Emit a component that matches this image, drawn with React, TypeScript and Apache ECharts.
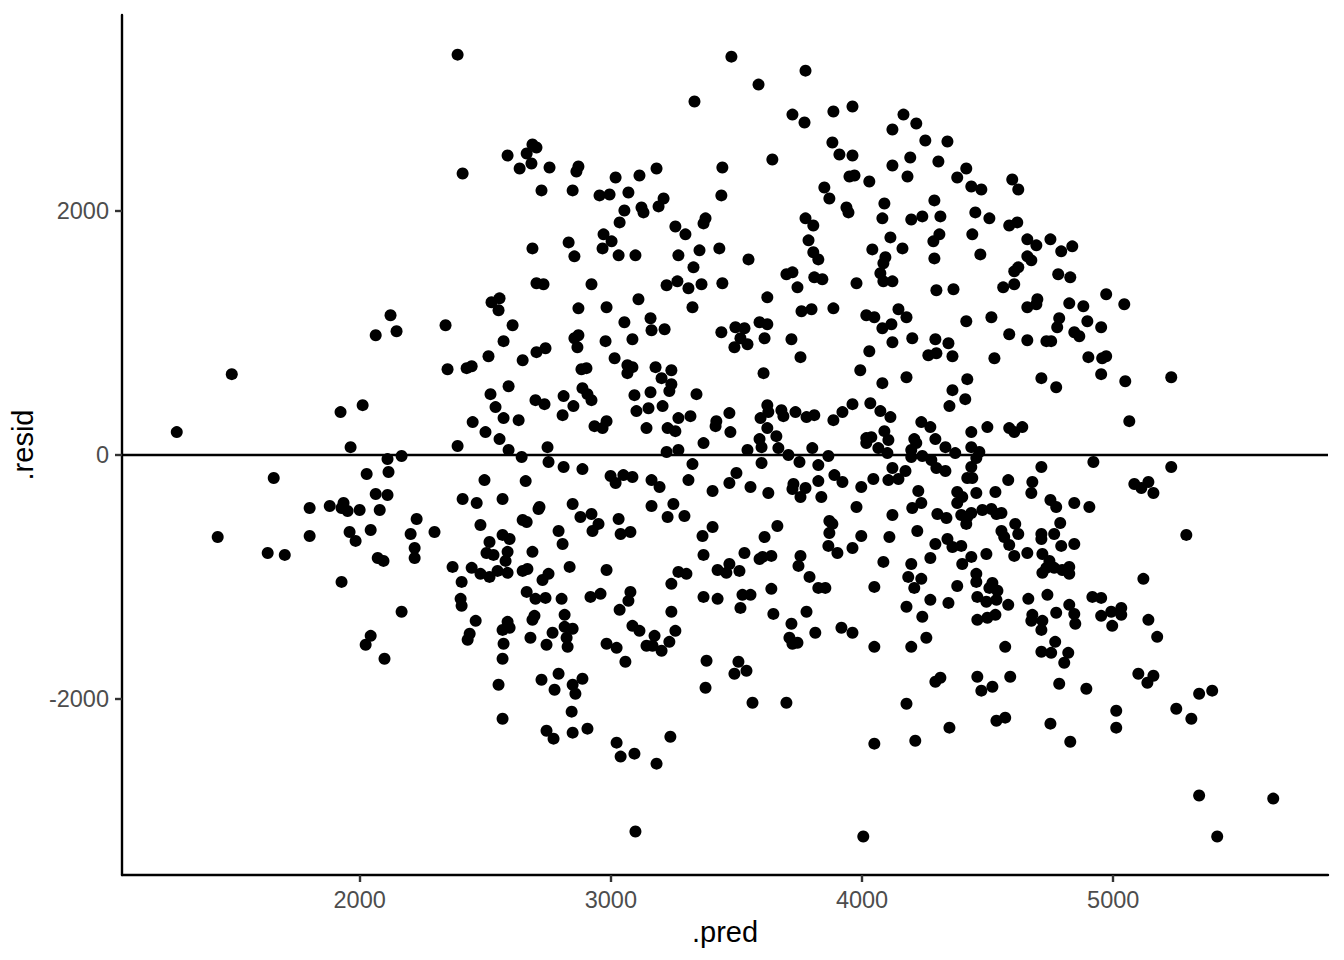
import React, { useEffect, useRef } from "react";
import * as echarts from "echarts";

const xTicks = [2000, 3000, 4000, 5000];
const yTicks = [-2000, 0, 2000];
const xRange = [1054, 5855];
const yRange = [-3440, 3605];

// .pred, .resid pairs, grouped by region of the plot
const leftPoints: [number, number][] = [
  [2123, 1145], [2064, 982], [2147, 1014], [1491, 663], [1924, 352], [2012, 409], [1272, 188], [1964, 65],
  [2111, -33], [2167, -8], [1658, -188], [2028, -155], [2115, -139], [2064, -319], [2111, -327], [1801, -434],
  [1881, -417], [1936, -393], [1928, -434], [1952, -458], [2000, -450], [2080, -450], [2227, -524], [1435, -671],
  [1801, -663], [1960, -630], [1984, -703], [2044, -614], [2203, -646], [2298, -630], [2219, -761], [2219, -843],
  [1634, -802], [1702, -818], [2072, -843], [2095, -867], [1928, -1039], [2167, -1284], [2044, -1481], [2024, -1554],
  [2099, -1669],
];

const upperMidLeft: [number, number][] = [
  [2390, 3280], [3333, 2896], [2688, 2544], [2704, 2519], [2589, 2454], [2665, 2470], [2637, 2348], [2684, 2389],
  [2756, 2356], [2871, 2364], [2863, 2323], [2410, 2307], [3182, 2348], [3114, 2290], [3019, 2274], [2724, 2168],
  [2848, 2168], [2955, 2127], [2995, 2135], [3070, 2151], [3210, 2102], [3190, 2037], [3122, 2029], [3130, 1988],
  [3054, 2004], [3035, 1906], [3257, 1873], [3297, 1808], [3377, 1939], [3369, 1898], [2971, 1808], [3003, 1751],
  [2832, 1742], [2688, 1693], [2967, 1693], [2855, 1628], [3031, 1636], [3098, 1636], [3269, 1636], [3353, 1677],
  [3329, 1538], [2704, 1407], [2732, 1399], [2923, 1399], [3222, 1391], [3265, 1423], [3309, 1366], [3361, 1399],
  [2525, 1252], [2557, 1284], [2553, 1186], [2871, 1202], [2983, 1211], [3110, 1276], [3325, 1211],
];

const upperMidRight: [number, number][] = [
  [3480, 3264], [3775, 3149], [3588, 3035], [3723, 2789], [3771, 2724], [3886, 2814], [3962, 2855], [4165, 2789],
  [4216, 2716], [4121, 2667], [4252, 2577], [4340, 2569], [3882, 2560], [3910, 2462], [3962, 2454], [3643, 2421],
  [3444, 2356], [4192, 2438], [4121, 2372], [4304, 2405], [4181, 2282], [4415, 2348], [4379, 2274], [4435, 2200],
  [4475, 2176], [3950, 2282], [3970, 2290], [4029, 2241], [3850, 2192], [3870, 2102], [4089, 2061], [4288, 2086],
  [3440, 2127], [3938, 2029], [3946, 1988], [4081, 1939], [4196, 1930], [4240, 1955], [4312, 1955], [4451, 1988],
  [4507, 1939], [3775, 1939], [3806, 1881], [4439, 1808], [4308, 1808], [4284, 1751], [4113, 1783], [4161, 1693],
  [4041, 1685], [3787, 1759], [3806, 1661], [3826, 1603], [4288, 1611], [4471, 1644], [3548, 1603], [3432, 1693],
  [4093, 1620], [4085, 1571], [4073, 1489], [4085, 1423], [4121, 1423], [3699, 1481], [3723, 1497], [3810, 1456],
  [3842, 1440], [3743, 1374], [3978, 1407], [4296, 1350], [4364, 1358], [3444, 1407], [3623, 1292], [3759, 1178],
  [3799, 1194], [3886, 1202], [4145, 1194],
];

const upperRight: [number, number][] = [
  [4598, 2258], [4622, 2176], [4586, 1881], [4618, 1906], [4658, 1767], [4694, 1718], [4750, 1767], [4793, 1669],
  [4837, 1710], [4658, 1628], [4674, 1595], [4606, 1505], [4622, 1538], [4781, 1481], [4829, 1456], [4562, 1374],
  [4606, 1399], [4698, 1276], [4658, 1211], [4694, 1235], [4825, 1243], [4881, 1219], [4972, 1317], [5044, 1235],
];

const centreLeft: [number, number][] = [
  [2342, 1063], [2609, 1063], [3054, 1088], [3158, 1121], [3162, 1023], [3214, 1031], [2573, 933], [2513, 810],
  [2649, 777], [2704, 843], [2740, 875], [2855, 957], [2871, 982], [2867, 883], [2979, 933], [3086, 949],
  [3015, 793], [2350, 703], [2426, 712], [2446, 728], [2883, 703], [2903, 712], [3066, 736], [3086, 720],
  [3066, 671], [3178, 720], [3241, 695], [3202, 630], [3241, 581], [3233, 524], [2593, 564], [2521, 499],
  [2700, 450], [2736, 417], [2812, 483], [2851, 401], [2887, 548], [2907, 499], [2923, 450], [3094, 491],
  [3158, 515], [3206, 401], [3341, 499], [2541, 393], [2808, 327], [3102, 360], [3150, 384], [2573, 303],
  [2633, 286], [2450, 270], [2935, 237], [2967, 221], [2983, 278], [3142, 221], [3226, 221], [3257, 196],
  [3269, 303], [3317, 319], [3420, 278], [3417, 237], [2501, 188], [2557, 131], [2390, 74], [2593, 41],
  [2645, -16], [2748, 65], [2752, -57], [2812, -98], [2887, -115], [3222, 25], [3269, 41], [3369, 98],
  [3325, -74], [2999, -172], [3019, -229], [3050, -164], [3086, -180], [3162, -205], [3194, -262], [3309, -205],
  [2497, -205], [2661, -213], [3405, -294], [2410, -360], [2466, -393], [2569, -360], [2716, -425], [2712, -442],
  [2848, -401], [2879, -507], [2923, -483], [2951, -564], [2927, -622], [3031, -524], [3039, -646], [3078, -630],
  [3162, -417], [3249, -401], [3226, -507], [3293, -499], [2649, -532], [2665, -548], [2481, -573], [2792, -622],
  [2808, -728], [2517, -712], [2569, -654], [2597, -687], [2589, -793], [2581, -867], [2505, -802], [2533, -818],
  [2688, -793], [3405, -589], [3365, -663], [3369, -818], [2370, -916], [2406, -1039], [2446, -924], [2481, -973],
  [2517, -998], [2549, -949], [2589, -965], [2649, -949], [2668, -933], [2728, -1023], [2752, -973], [2836, -916],
  [2983, -941], [3269, -957], [3301, -973], [3241, -1055], [3425, -941], [2665, -1121], [2700, -1178], [2740, -1170],
  [2804, -1178], [2919, -1162], [2959, -1137], [3078, -1121], [3070, -1194], [2402, -1178], [3369, -1162], [3425, -1178],
];

const lowerMidLeft: [number, number][] = [
  [2406, -1235], [2462, -1358], [2589, -1366], [2569, -1432], [2597, -1415], [2696, -1317], [2688, -1350], [2438, -1464],
  [2430, -1513], [2573, -1546], [2569, -1669], [2680, -1497], [2744, -1554], [2768, -1456], [2816, -1309], [2816, -1407],
  [2848, -1423], [2824, -1497], [2828, -1571], [3035, -1268], [3086, -1399], [3114, -1440], [2983, -1546], [3023, -1579],
  [3058, -1693], [3174, -1481], [3142, -1562], [3166, -1562], [3202, -1603], [3233, -1530], [3257, -1440], [3241, -1284],
  [3381, -1685], [3377, -1906], [2553, -1881], [2724, -1841], [2792, -1791], [2776, -1922], [2848, -1881], [2859, -1955],
  [2887, -1832], [2569, -2160], [2844, -2102], [2744, -2258], [2772, -2323], [2848, -2274], [2907, -2241], [3023, -2356],
  [3039, -2470], [3094, -2446], [3182, -2528], [3237, -2307], [3098, -3084],
];

const centreRight: [number, number][] = [
  [3440, 1006], [3496, 1047], [3532, 1039], [3592, 1088], [3623, 1072], [3516, 957], [3492, 883], [3544, 908],
  [3612, 957], [3719, 949], [3755, 802], [3608, 671], [4017, 1145], [4049, 1129], [4177, 1129], [4081, 1039],
  [4117, 1072], [4121, 924], [4200, 957], [4029, 851], [3993, 695], [4081, 589], [4177, 638], [4292, 949],
  [4344, 916], [4264, 818], [4296, 834], [4360, 810], [4415, 1096], [4515, 1129], [4527, 793], [4419, 622],
  [4360, 532], [4411, 458], [4348, 401], [3472, 344], [3476, 188], [3623, 409], [3627, 352], [3596, 303],
  [3679, 368], [3687, 319], [3735, 352], [3779, 311], [3810, 327], [3886, 286], [3922, 352], [3962, 417],
  [4033, 425], [4073, 360], [4113, 311], [4089, 196], [4017, 139], [4037, 147], [4017, 98], [4105, 123],
  [4208, 131], [4216, 98], [4236, 270], [4272, 229], [4292, 131], [4332, 65], [4435, 188], [4499, 229],
  [3623, 221], [3592, 131], [3600, 65], [3659, 155], [3667, 57], [3544, 41], [3707, 0], [3802, 57],
  [3866, -8], [3751, -57], [3600, -65], [3826, -82], [4065, 57], [4101, 16], [4196, 41], [4196, -16],
  [4240, -8], [4276, -41], [4296, -106], [4332, -131], [4371, 16], [4435, 65], [4467, 25], [4455, -25],
  [4435, -98], [4121, -106], [4173, -131], [3500, -147], [3472, -229], [3556, -262], [3627, -311], [3727, -237],
  [3723, -278], [3755, -344], [3775, -270], [3826, -213], [3838, -344], [3890, -164], [3922, -221], [3997, -262],
  [4045, -196], [4105, -205], [4145, -196], [4224, -294], [4419, -188], [4439, -188], [4379, -303], [4399, -344],
  [4379, -393], [4455, -311], [4531, -303], [4200, -434], [4236, -393], [3978, -425], [4121, -491], [4300, -483],
  [4336, -515], [4395, -491], [4419, -507], [4435, -474], [4415, -564], [4479, -450], [4515, -442], [4535, -483],
  [4555, -474], [3870, -540], [3882, -564], [3870, -638], [3663, -581], [3612, -671], [3997, -663], [4109, -671],
  [4220, -622], [4340, -687], [4360, -753], [4395, -744], [4292, -728], [4272, -843], [4435, -834], [4495, -810],
  [3866, -744], [3902, -802], [3962, -761], [3532, -802], [3592, -851], [3604, -834], [3639, -826], [3755, -826],
  [3747, -908], [3472, -892], [3512, -949], [3460, -965], [4085, -875], [4196, -892], [4399, -892], [4455, -973],
  [4455, -1039], [3791, -998], [4184, -998], [4236, -1014], [4208, -1088], [4519, -1047], [4507, -1088], [4539, -1112],
  [3826, -1088], [3854, -1088], [4049, -1080], [4379, -1072], [3639, -1096],
];

const lowerMidRight: [number, number][] = [
  [3524, -1145], [3556, -1145], [3516, -1252], [3647, -1301], [3779, -1284], [3719, -1382], [3711, -1497], [3723, -1546],
  [3743, -1538], [3814, -1456], [3918, -1415], [3962, -1456], [4049, -1571], [4177, -1243], [4272, -1186], [4344, -1211],
  [4240, -1325], [4256, -1497], [4196, -1571], [4459, -1162], [4495, -1202], [4535, -1186], [4459, -1350], [4499, -1333],
  [4531, -1309], [3508, -1693], [3540, -1767], [3492, -1791], [3564, -2029], [3699, -2029], [4292, -1857], [4312, -1824],
  [4459, -1816], [4475, -1930], [4519, -1898], [4177, -2037], [4348, -2233], [4535, -2176], [4049, -2364], [4212, -2340],
  [4005, -3125],
];

const rightMiddle: [number, number][] = [
  [4785, 1121], [4777, 1047], [4897, 1096], [4952, 1047], [4586, 990], [4658, 941], [4734, 933], [4753, 933],
  [4845, 1006], [4865, 973], [4901, 802], [4956, 793], [4972, 810], [4714, 630], [4773, 556], [4952, 663],
  [5048, 605], [5231, 638], [5064, 278], [4586, 221], [4606, 188], [4638, 229], [4921, -57], [4714, -98],
  [5231, -98], [4582, -205], [4678, -221], [4674, -311], [5084, -237], [5112, -270], [5140, -221], [5160, -311],
  [4750, -368], [4773, -425], [4845, -393], [4905, -425], [4610, -564], [4622, -646], [4789, -556], [4555, -622],
  [4566, -671], [4586, -736], [4714, -646], [4714, -687], [4765, -646], [4793, -744], [4845, -728], [4606, -826],
  [4658, -802], [4718, -810], [4746, -867], [4734, -924], [4765, -924], [4797, -941], [4825, -916], [4825, -973],
  [4718, -965], [5291, -654], [5120, -1014],
];

const lowerRight: [number, number][] = [
  [4582, -1227], [4662, -1178], [4738, -1145], [4917, -1162], [4952, -1170], [4825, -1227], [4845, -1301], [4849, -1382],
  [4678, -1309], [4674, -1358], [4718, -1358], [4714, -1432], [4773, -1292], [4952, -1317], [4992, -1284], [5032, -1252],
  [5032, -1309], [4996, -1399], [5140, -1350], [5175, -1489], [4570, -1571], [4769, -1530], [4714, -1611], [4753, -1620],
  [4821, -1620], [4805, -1701], [4590, -1816], [4785, -1873], [4893, -1914], [5100, -1791], [5160, -1808], [5136, -1865],
  [5342, -1955], [5394, -1930], [5251, -2078], [5311, -2160], [4570, -2151], [4750, -2200], [4829, -2348], [5012, -2094],
  [5012, -2233], [5342, -2789], [5637, -2814], [5414, -3125],
];

const allPoints = [
  ...leftPoints, ...upperMidLeft, ...upperMidRight, ...upperRight, ...centreLeft,
  ...lowerMidLeft, ...centreRight, ...lowerMidRight, ...rightMiddle, ...lowerRight,
];

const FONT = "'Liberation Sans', Arial, Helvetica, sans-serif";

export default function App() {
  const ref = useRef<HTMLDivElement>(null);
  useEffect(() => {
    const chart = echarts.init(ref.current!, null, { renderer: "svg" });
    chart.setOption({
      animation: false,
      backgroundColor: "#ffffff",
      grid: { left: 122, right: 16, top: 15, bottom: 85, outerBoundsMode: "none" },
      xAxis: {
        type: "value",
        min: xRange[0],
        max: xRange[1],
        name: ".pred",
        nameLocation: "middle",
        nameGap: 42,
        nameTextStyle: { color: "#000", fontSize: 29, fontFamily: FONT },
        axisLine: { onZero: false, lineStyle: { color: "#000", width: 2.4 } },
        axisTick: { show: true, length: 7, customValues: xTicks, lineStyle: { color: "#333", width: 2.4 } },
        axisLabel: {
          customValues: xTicks,
          formatter: (v: number) => String(v),
          margin: 13,
          color: "#4d4d4d",
          fontSize: 23.5,
          fontFamily: FONT,
        },
        splitLine: { show: false },
      },
      yAxis: {
        type: "value",
        min: yRange[0],
        max: yRange[1],
        name: ".resid",
        nameLocation: "middle",
        nameGap: 76,
        nameRotate: 90,
        nameTextStyle: { color: "#000", fontSize: 29, fontFamily: FONT },
        axisLine: { onZero: false, lineStyle: { color: "#000", width: 2.4 } },
        axisTick: { show: true, length: 7, customValues: yTicks, lineStyle: { color: "#333", width: 2.4 } },
        axisLabel: {
          customValues: yTicks,
          formatter: (v: number) => String(v),
          margin: 13,
          color: "#4d4d4d",
          fontSize: 23.5,
          fontFamily: FONT,
        },
        splitLine: { show: false },
      },
      series: [
        {
          type: "scatter",
          data: allPoints,
          symbol: "circle",
          symbolSize: 12,
          itemStyle: { color: "#000", opacity: 1 },
          emphasis: { disabled: true },
          markLine: {
            silent: true,
            symbol: ["none", "none"],
            label: { show: false },
            lineStyle: { color: "#000", width: 2.4, type: "solid" },
            data: [{ yAxis: 0 }],
          },
        },
      ],
    });
    return () => chart.dispose();
  }, []);
  return (
    <div
      ref={ref}
      style={{ position: "absolute", left: 0, top: 0, width: 1344, height: 960, background: "#fff" }}
    />
  );
}
